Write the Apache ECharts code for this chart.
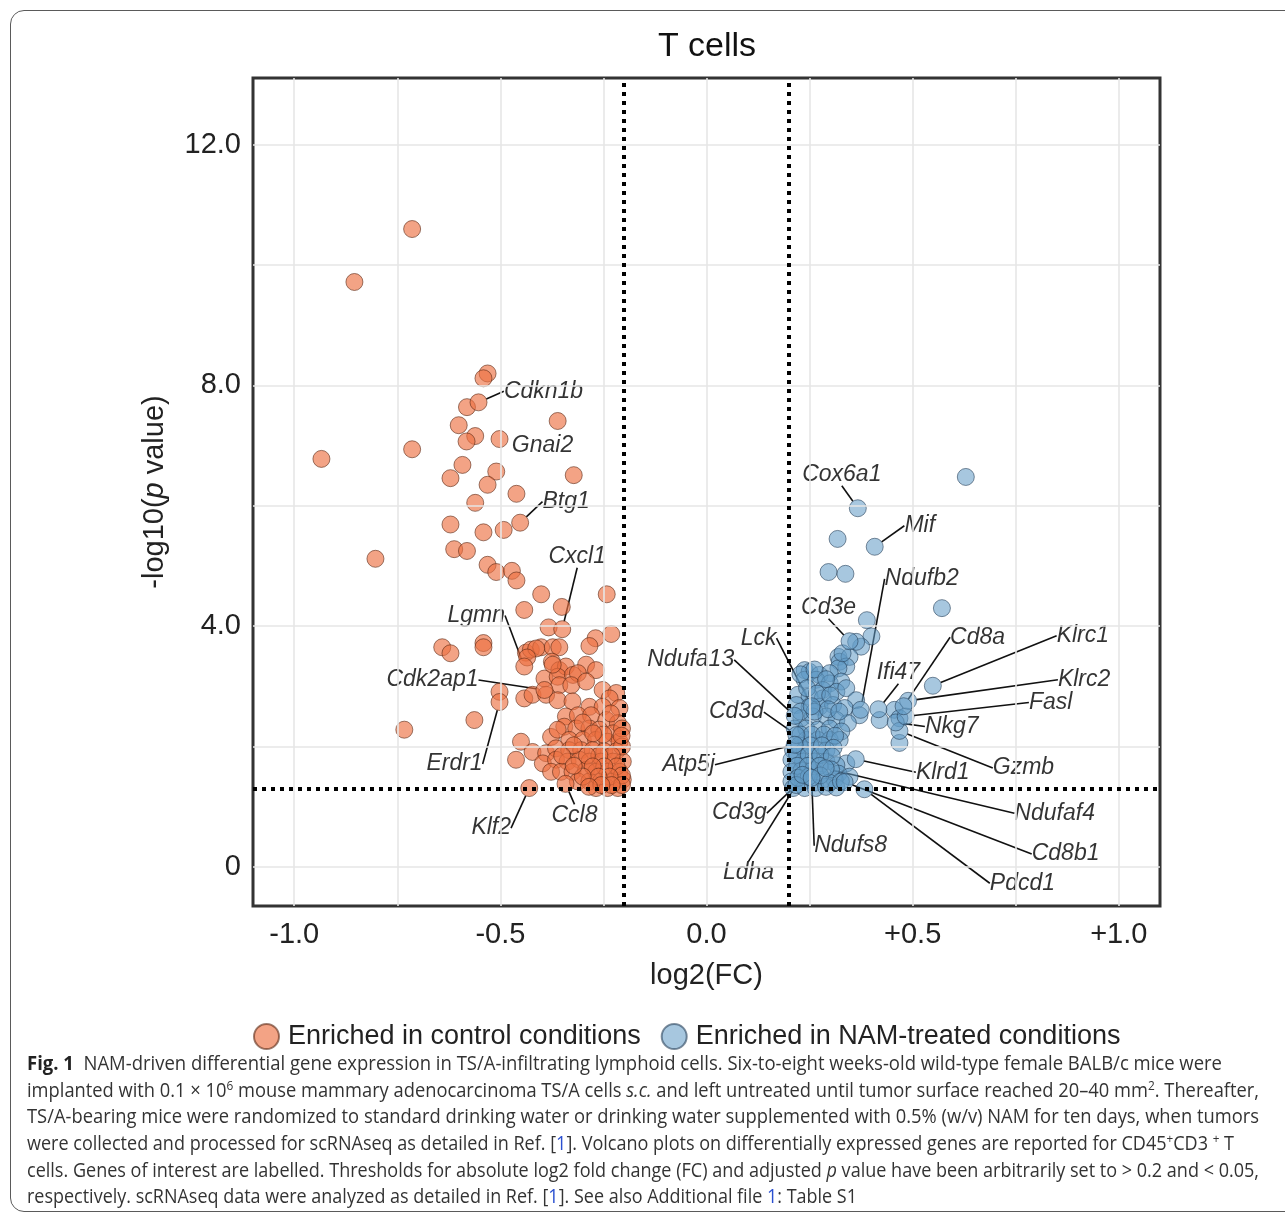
<!DOCTYPE html>
<html>
<head>
<meta charset="utf-8">
<script src="https://cdn.jsdelivr.net/npm/echarts@6/dist/echarts.min.js"></script>
<style>
  html, body { margin:0; padding:0; width:1285px; height:1217px; overflow:hidden; background:#fff; }
  #chart { position:absolute; left:0; top:0; width:1285px; height:1217px; }
  #frame { position:absolute; left:10px; top:10px; width:1300px; height:1202px; border:1.5px solid #5a5a5a; border-radius:14px; pointer-events:none; box-sizing:border-box; }
  .cap { position:absolute; left:27px; white-space:nowrap; font-family:'Open Sans', 'Liberation Sans', sans-serif; font-size:19.5px; line-height:26px; color:#333; transform-origin:0 50%; }
  .cap b { color:#222; }
  .cap sup { font-size:65%; line-height:0; vertical-align:super; }
  .cap .ln { color:#2a4fd0; }
</style>
</head>
<body>
<div id="chart"></div>
<div id="frame"></div>
<div class="cap" data-right="1222" style="top:1050px"><b>Fig. 1</b>&nbsp; NAM-driven differential gene expression in TS/A-infiltrating lymphoid cells. Six-to-eight weeks-old wild-type female BALB/c mice were</div>
<div class="cap" data-right="1259" style="top:1077px">implanted with 0.1 × 10<sup>6</sup> mouse mammary adenocarcinoma TS/A cells <i>s.c.</i> and left untreated until tumor surface reached 20–40 mm<sup>2</sup>. Thereafter,</div>
<div class="cap" data-right="1259" style="top:1103px">TS/A-bearing mice were randomized to standard drinking water or drinking water supplemented with 0.5% (w/v) NAM for ten days, when tumors</div>
<div class="cap" data-right="1234" style="top:1130px">were collected and processed for scRNAseq as detailed in Ref. [<span class="ln">1</span>]. Volcano plots on differentially expressed genes are reported for CD45<sup>+</sup>CD3 <sup>+</sup> T</div>
<div class="cap" data-right="1259" style="top:1157px">cells. Genes of interest are labelled. Thresholds for absolute log2 fold change (FC) and adjusted <i>p</i> value have been arbitrarily set to &gt; 0.2 and &lt; 0.05,</div>
<div class="cap" data-right="857" style="top:1183px">respectively. scRNAseq data were analyzed as detailed in Ref. [<span class="ln">1</span>]. See also Additional file <span class="ln">1</span>: Table S1</div>
<script>
// ---------- DATA ----------
const xTickLabels = [-1.0, -0.5, 0.0, 0.5, 1.0];
const yTickLabels = [0, 4, 8, 12];
const xGrid = [-1.0, -0.75, -0.5, -0.25, 0, 0.25, 0.5, 0.75, 1.0];
const yGrid = [0, 2, 4, 6, 8, 10, 12];
const fcThresholds = [-0.2, 0.2];
const pThreshold = 1.301; // -log10(0.05)

// Enriched in control conditions (log2FC, -log10 p)
const controlPts = [
  [-0.714,10.60],[-0.854,9.72],[-0.934,6.78],[-0.803,5.12],[-0.714,6.94],[-0.733,2.28],[-0.641,3.65],[-0.621,3.55],[-0.563,2.44],
  [-0.531,8.20],[-0.541,8.12],[-0.581,7.64],[-0.601,7.34],[-0.561,7.16],[-0.582,7.07],[-0.361,7.41],[-0.592,6.68],[-0.510,6.57],
  [-0.621,6.46],[-0.531,6.35],[-0.322,6.51],[-0.461,6.20],[-0.561,6.05],[-0.621,5.69],[-0.541,5.56],[-0.492,5.60],[-0.612,5.28],
  [-0.581,5.25],[-0.531,5.02],[-0.510,4.90],[-0.472,4.92],[-0.461,4.76],[-0.401,4.53],[-0.242,4.53],[-0.442,4.27],[-0.351,4.32],
  [-0.383,3.98],[-0.231,3.87],[-0.269,3.80],[-0.284,3.67],[-0.541,3.72],[-0.541,3.65],[-0.438,3.56],[-0.426,3.61],[-0.401,3.65],
  [-0.373,3.65],[-0.357,3.65],[-0.413,3.63],
  [-0.435,3.48],[-0.375,3.41],[-0.357,3.27],[-0.341,3.33],[-0.292,3.36],[-0.268,3.27],[-0.393,3.13],[-0.361,3.16],[-0.324,3.19],
  [-0.312,3.22],[-0.373,3.36],[-0.502,2.91],[-0.442,2.80],[-0.422,2.86],[-0.450,2.08],[-0.462,1.78],[-0.422,1.91],
  [-0.357,3.02],[-0.328,3.02],[-0.292,3.08],[-0.252,2.94],[-0.219,2.89],[-0.235,2.80],
  [-0.389,2.86],[-0.361,2.77],[-0.325,2.75],[-0.284,2.66],[-0.252,2.66],[-0.211,2.64],
  [-0.341,2.50],[-0.312,2.52],[-0.280,2.52],[-0.243,2.44],[-0.215,2.39],
  [-0.345,2.33],[-0.316,2.30],[-0.284,2.30],[-0.260,2.28],[-0.227,2.22],
  [-0.377,2.16],[-0.361,2.28],[-0.333,2.11],[-0.300,2.11],[-0.268,2.11],[-0.240,2.08],[-0.211,2.08],
  [-0.389,1.89],[-0.365,1.97],[-0.333,1.94],[-0.304,1.94],[-0.276,1.94],[-0.248,1.92],[-0.219,1.92],
  [-0.397,1.72],[-0.365,1.78],[-0.337,1.75],[-0.308,1.78],[-0.284,1.75],[-0.256,1.75],[-0.227,1.75],[-0.203,1.75],
  [-0.377,1.58],[-0.353,1.58],[-0.325,1.58],[-0.292,1.61],[-0.268,1.58],[-0.240,1.58],[-0.211,1.58],
  [-0.312,1.42],[-0.284,1.42],[-0.256,1.42],[-0.227,1.42],[-0.203,1.45],
  [-0.268,1.31],[-0.240,1.31],[-0.215,1.31],
  [-0.300,2.40],[-0.232,2.55],[-0.205,2.30],[-0.205,2.00],[-0.230,1.85],[-0.260,1.85],[-0.290,1.85],[-0.218,1.67],[-0.248,1.67],
  [-0.276,1.67],[-0.205,1.52],[-0.235,1.50],[-0.262,1.50],[-0.300,1.50],[-0.205,1.36],[-0.230,1.36],[-0.255,1.36],[-0.285,1.33],
  [-0.322,2.02],[-0.350,1.85],[-0.322,1.68],[-0.250,2.20],[-0.275,2.22],[-0.206,2.18]
];
const controlGenes = ['Cdkn1b','Gnai2','Btg1','Cxcl1','Lgmn','Cdk2ap1','Erdr1','Klf2','Ccl8'];
const controlGenePts = [[-0.553,7.72],[-0.502,7.11],[-0.452,5.72],[-0.350,3.95],[-0.442,3.33],[-0.393,2.94],[-0.502,2.74],[-0.430,1.31],[-0.342,1.38]];

// Enriched in NAM-treated conditions
const namPts = [
  [0.629,6.48],[0.318,5.45],[0.296,4.90],[0.337,4.87],[0.571,4.30],[0.389,4.10],[0.400,3.83],[0.375,3.66],[0.363,3.74],
  [0.320,3.49],[0.323,3.41],[0.347,3.49],[0.339,3.33],[0.320,3.30],[0.238,3.27],[0.250,3.24],[0.274,3.19],[0.299,3.22],
  [0.238,3.11],[0.266,3.11],[0.299,3.05],[0.327,3.08],[0.282,2.94],[0.315,2.91],[0.339,2.97],[0.222,2.86],[0.250,2.83],
  [0.282,2.80],[0.363,2.77],[0.218,2.69],[0.250,2.66],[0.274,2.66],[0.307,2.69],[0.335,2.64],[0.371,2.52],[0.456,2.61],
  [0.420,2.44],[0.468,2.47],[0.468,2.06],[0.230,2.47],[0.258,2.50],[0.291,2.50],[0.315,2.44],[0.343,2.39],
  [0.214,2.30],[0.242,2.30],[0.270,2.28],[0.299,2.30],[0.327,2.25],[0.242,2.11],[0.270,2.11],[0.299,2.11],[0.323,2.11],
  [0.210,1.94],[0.238,1.94],[0.266,1.94],[0.291,1.94],[0.339,1.72],[0.206,1.78],[0.234,1.75],[0.262,1.75],[0.291,1.75],
  [0.315,1.69],[0.206,1.58],[0.230,1.60],[0.258,1.61],[0.320,1.55],[0.347,1.50],[0.206,1.42],[0.234,1.42],[0.262,1.40],
  [0.282,1.45],[0.311,1.45],[0.210,1.31],[0.238,1.31],[0.265,1.31],[0.290,1.33],[0.315,1.32],
  [0.228,3.20],[0.262,3.28],[0.290,3.12],[0.330,3.55],[0.244,2.97],[0.268,2.88],[0.300,2.85],[0.228,2.58],[0.262,2.58],
  [0.295,2.62],[0.322,2.58],[0.228,2.20],[0.255,2.20],[0.285,2.20],[0.312,2.18],[0.225,2.02],[0.252,2.02],[0.280,2.02],
  [0.308,1.98],[0.220,1.86],[0.248,1.86],[0.276,1.86],[0.304,1.84],[0.220,1.68],[0.246,1.68],[0.274,1.68],[0.302,1.62],
  [0.222,1.48],[0.248,1.50],[0.276,1.52],[0.298,1.40],[0.326,1.42]
];
const namGenes = ['Cox6a1','Mif','Ndufb2','Cd3e','Lck','Ndufa13','Cd3d','Atp5j','Cd3g','Ldha','Ndufs8','Klrd1','Gzmb','Nkg7','Fasl','Klrc2','Cd8a','Klrc1','Ifi47','Ndufaf4','Cd8b1','Pdcd1'];
const namGenePts = [[0.367,5.96],[0.408,5.32],[0.374,2.61],[0.347,3.75],[0.255,2.67],[0.214,2.51],[0.218,2.19],[0.214,2.03],[0.218,1.36],[0.233,1.53],[0.255,1.48],[0.362,1.79],[0.468,2.26],[0.459,2.40],[0.483,2.50],[0.489,2.76],[0.478,2.67],[0.549,3.01],[0.417,2.62],[0.289,1.64],[0.335,1.41],[0.383,1.29]];

// ---------- LAYOUT (label offsets in px from point to label centre) ----------
const labelOffsets = {
  Cdkn1b:[65,-11], Gnai2:[43,7], Btg1:[46,-21], Cxcl1:[15,-73], Lgmn:[-48,-51], Cdk2ap1:[-112,-10], Erdr1:[-45,62], Klf2:[-38,40], Ccl8:[9,32],
  Cox6a1:[-16,-34], Mif:[45,-21], Ndufb2:[61,-131], Cd3e:[-21,-34], Lck:[-53,-68], Ndufa13:[-104,-56], Cd3d:[-60,-23], Atp5j:[-106,20],
  Cd3g:[-57,28], Ldha:[-54,98], Ndufs8:[39,68], Klrd1:[87,13], Gzmb:[124,37], Nkg7:[56,4], Fasl:[145,-14], Klrc2:[176,-21], Cd8a:[74,-69],
  Klrc1:[150,-50], Ifi47:[20,-37], Ndufaf4:[229,45], Cd8b1:[221,72], Pdcd1:[158,94]
};
const noLine = { Gnai2: true };

function buildData(pts, genes, genePts) {
  const d = pts.map(p => ({ value: p }));
  genes.forEach((g, i) => d.push({ value: genePts[i], name: g, label: { show: true }, labelLine: { show: !noLine[g] } }));
  return d;
}

const FONT = "'Liberation Sans', Arial, sans-serif";
const labelCfg = { show: false, position: 'inside', formatter: '{b}', fontStyle: 'italic', fontSize: 23, color: '#000',
  fontFamily: FONT, textBorderWidth: 0, textBorderColor: 'transparent', textShadowBlur: 0 };
const labelLineCfg = { show: true, lineStyle: { color: '#111', width: 1.6 } };
const layoutFn = p => { const o = labelOffsets[p.text]; return o ? { dx: o[0], dy: o[1] } : {}; };

const chart = echarts.init(document.getElementById('chart'), null, { renderer: 'canvas' });
chart.setOption({
  animation: false,
  backgroundColor: '#fff',
  graphic: [{ type: 'text', x: 707, y: 47, style: { text: 'T cells', textAlign: 'center', textVerticalAlign: 'middle', font: "34px 'Liberation Sans', Arial, sans-serif", fill: '#111' } }],
  legend: {
    left: 248, top: 1018, itemWidth: 25, itemHeight: 25, itemGap: 20, icon: 'circle',
    textStyle: { fontSize: 27, fontFamily: FONT, color: '#222', padding: [0, 0, 0, 4] },
    data: ['Enriched in control conditions', 'Enriched in NAM-treated conditions']
  },
  grid: { left: 253, top: 78, width: 907, height: 828, show: true, borderWidth: 3, borderColor: '#333', backgroundColor: '#fff' },
  xAxis: {
    type: 'value', min: -1.1, max: 1.1,
    name: 'log2(FC)', nameLocation: 'middle', nameGap: 55,
    nameTextStyle: { fontSize: 29, fontFamily: FONT, color: '#222' },
    axisLine: { show: false }, axisTick: { show: false }, splitLine: { show: false },
    axisLabel: { customValues: xTickLabels, margin: 14, fontSize: 29, fontFamily: FONT, color: '#222',
      formatter: v => (Math.abs(v) < 1e-9 ? '0.0' : (v > 0 ? '+' : '') + v.toFixed(1)) }
  },
  yAxis: {
    type: 'value', min: -0.65, max: 13.11,
    name: '-log10({i|p} value)', nameLocation: 'middle', nameGap: 84,
    nameTextStyle: { fontSize: 29, fontFamily: FONT, color: '#222', rich: { i: { fontStyle: 'italic', fontSize: 29, fontFamily: FONT, color: '#222' } } },
    axisLine: { show: false }, axisTick: { show: false }, splitLine: { show: false },
    axisLabel: { customValues: yTickLabels, margin: 12, fontSize: 29, fontFamily: FONT, color: '#222',
      formatter: v => (v === 0 ? '0' : v.toFixed(1)) }
  },
  series: [
    {
      type: 'line', data: [], silent: true, z: 1,
      markLine: { silent: true, symbol: 'none', label: { show: false }, animation: false,
        lineStyle: { color: '#e6e6e6', width: 1.6, type: 'solid' },
        data: xGrid.map(v => ({ xAxis: v })).concat(yGrid.map(v => ({ yAxis: v }))) }
    },
    {
      name: 'Enriched in control conditions', type: 'scatter', symbol: 'circle', symbolSize: 17, z: 3,
      itemStyle: { color: 'rgba(236,111,64,0.80)', borderColor: 'rgba(90,40,20,0.75)', borderWidth: 1 },
      label: labelCfg, labelLine: labelLineCfg, labelLayout: layoutFn,
      emphasis: { disabled: true },
      data: buildData(controlPts, controlGenes, controlGenePts)
    },
    {
      name: 'Enriched in NAM-treated conditions', type: 'scatter', symbol: 'circle', symbolSize: 17, z: 3,
      itemStyle: { color: 'rgba(98,155,198,0.70)', borderColor: 'rgba(40,65,90,0.75)', borderWidth: 1 },
      label: labelCfg, labelLine: labelLineCfg, labelLayout: layoutFn,
      emphasis: { disabled: true },
      data: buildData(namPts, namGenes, namGenePts)
    },
    {
      type: 'line', data: [], silent: true, z: 6,
      markLine: { silent: true, symbol: 'none', label: { show: false }, animation: false,
        lineStyle: { color: '#000', width: 4, type: [4, 5] },
        data: fcThresholds.map(v => ({ xAxis: v })).concat([{ yAxis: pThreshold }]) }
    }
  ]
});

// fit caption lines to the widths measured in the reference
document.querySelectorAll('.cap').forEach(el => {
  const w = el.getBoundingClientRect().width;
  const target = parseFloat(el.dataset.right) - 27;
  el.style.transform = 'scaleX(' + (target / w) + ')';
});
</script>
</body>
</html>
